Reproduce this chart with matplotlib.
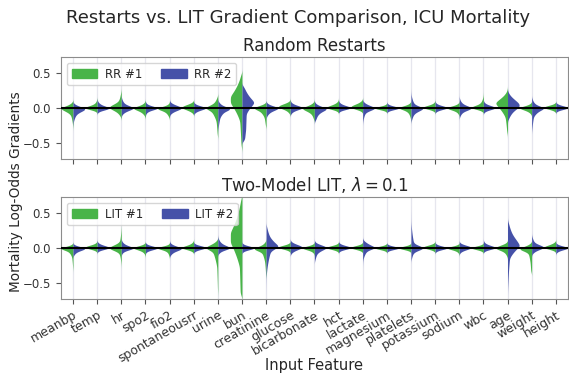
import numpy as np
import matplotlib
matplotlib.use("Agg")
import matplotlib.pyplot as plt
from matplotlib.patches import Patch

features = ["meanbp", "temp", "hr", "spo2", "fio2", "spontaneousrr", "urine",
            "bun", "creatinine", "glucose", "bicarbonate", "hct", "lactate",
            "magnesium", "platelets", "potassium", "sodium", "wbc", "age",
            "weight", "height"]

# gradient quantiles per feature: min, 5%, 25%, 50%, 75%, 95%, max
probs = [0.0, 0.05, 0.25, 0.5, 0.75, 0.95, 1.0]

rr1 = [
    [-0.33, -0.15, -0.04, -0.01, 0.01, 0.05, 0.10],
    [-0.05, -0.02, -0.005, 0.005, 0.02, 0.07, 0.14],
    [-0.16, -0.08, -0.02, 0.01, 0.04, 0.15, 0.28],
    [-0.14, -0.08, -0.03, -0.005, 0.01, 0.05, 0.10],
    [-0.15, -0.10, -0.04, -0.01, 0.0, 0.03, 0.08],
    [-0.08, -0.05, -0.01, 0.01, 0.03, 0.06, 0.09],
    [-0.45, -0.30, -0.08, -0.01, 0.02, 0.10, 0.20],
    [-0.65, -0.40, 0.02, 0.12, 0.22, 0.38, 0.55],
    [-0.30, -0.20, -0.06, -0.01, 0.01, 0.04, 0.07],
    [-0.10, -0.05, 0.0, 0.02, 0.04, 0.07, 0.10],
    [-0.20, -0.12, -0.04, -0.01, 0.01, 0.05, 0.10],
    [-0.05, -0.02, 0.0, 0.01, 0.03, 0.06, 0.12],
    [-0.05, -0.02, 0.0, 0.02, 0.04, 0.08, 0.12],
    [-0.03, -0.015, -0.005, 0.0, 0.005, 0.02, 0.04],
    [-0.20, -0.10, -0.03, 0.0, 0.01, 0.04, 0.10],
    [-0.05, -0.02, 0.0, 0.01, 0.02, 0.05, 0.10],
    [-0.12, -0.06, -0.015, 0.0, 0.01, 0.04, 0.08],
    [-0.05, -0.02, 0.0, 0.01, 0.03, 0.08, 0.25],
    [-0.42, -0.25, -0.02, 0.05, 0.10, 0.17, 0.30],
    [-0.10, -0.06, -0.02, 0.0, 0.01, 0.04, 0.08],
    [-0.05, -0.02, 0.0, 0.01, 0.02, 0.04, 0.06],
]
rr2 = [
    [-0.28, -0.12, -0.05, -0.02, 0.0, 0.03, 0.08],
    [-0.06, -0.03, -0.01, 0.0, 0.02, 0.06, 0.12],
    [-0.12, -0.06, -0.02, 0.0, 0.02, 0.08, 0.18],
    [-0.10, -0.05, -0.01, 0.0, 0.01, 0.04, 0.08],
    [-0.10, -0.06, -0.02, 0.0, 0.02, 0.05, 0.10],
    [-0.08, -0.05, -0.015, 0.0, 0.01, 0.04, 0.07],
    [-0.35, -0.20, -0.07, -0.02, 0.0, 0.05, 0.12],
    [-0.50, -0.42, -0.20, 0.04, 0.12, 0.25, 0.35],
    [-0.15, -0.08, -0.03, -0.005, 0.01, 0.04, 0.08],
    [-0.10, -0.05, -0.01, 0.005, 0.02, 0.05, 0.10],
    [-0.20, -0.15, -0.06, -0.02, 0.0, 0.04, 0.08],
    [-0.04, -0.02, -0.005, 0.005, 0.02, 0.05, 0.10],
    [-0.25, -0.10, -0.02, 0.0, 0.02, 0.06, 0.10],
    [-0.04, -0.02, -0.005, 0.0, 0.01, 0.03, 0.06],
    [-0.22, -0.12, -0.04, -0.01, 0.01, 0.08, 0.28],
    [-0.05, -0.025, -0.005, 0.005, 0.015, 0.04, 0.08],
    [-0.15, -0.08, -0.02, 0.0, 0.02, 0.07, 0.17],
    [-0.07, -0.03, -0.005, 0.005, 0.02, 0.05, 0.10],
    [-0.20, -0.10, -0.01, 0.04, 0.09, 0.16, 0.27],
    [-0.38, -0.20, -0.05, -0.01, 0.01, 0.07, 0.17],
    [-0.04, -0.02, -0.005, 0.005, 0.015, 0.04, 0.06],
]
lit1 = [
    [-0.35, -0.20, -0.05, -0.01, 0.0, 0.02, 0.05],
    [-0.04, -0.02, 0.0, 0.01, 0.02, 0.05, 0.08],
    [-0.30, -0.12, -0.02, 0.0, 0.02, 0.15, 0.36],
    [-0.12, -0.06, -0.015, 0.0, 0.01, 0.03, 0.06],
    [-0.15, -0.08, -0.02, 0.0, 0.005, 0.02, 0.04],
    [-0.06, -0.03, -0.005, 0.005, 0.02, 0.06, 0.10],
    [-0.72, -0.45, -0.10, -0.01, 0.02, 0.07, 0.13],
    [-0.75, -0.55, 0.0, 0.15, 0.30, 0.55, 0.80],
    [-0.45, -0.30, -0.10, -0.02, 0.0, 0.05, 0.12],
    [-0.04, -0.02, 0.0, 0.01, 0.02, 0.04, 0.06],
    [-0.10, -0.05, -0.01, 0.0, 0.01, 0.03, 0.05],
    [-0.04, -0.02, -0.005, 0.005, 0.015, 0.03, 0.05],
    [-0.04, -0.02, -0.005, 0.005, 0.015, 0.03, 0.05],
    [-0.03, -0.015, -0.005, 0.0, 0.005, 0.015, 0.03],
    [-0.04, -0.02, -0.005, 0.0, 0.005, 0.02, 0.04],
    [-0.04, -0.02, 0.0, 0.01, 0.02, 0.04, 0.07],
    [-0.10, -0.05, -0.01, 0.0, 0.005, 0.02, 0.04],
    [-0.05, -0.025, -0.005, 0.0, 0.01, 0.02, 0.04],
    [-0.15, -0.08, -0.02, 0.0, 0.02, 0.05, 0.08],
    [-0.38, -0.30, -0.12, -0.02, 0.0, 0.04, 0.08],
    [-0.04, -0.02, 0.0, 0.01, 0.03, 0.06, 0.09],
]
lit2 = [
    [-0.12, -0.08, -0.03, -0.01, 0.0, 0.02, 0.04],
    [-0.04, -0.02, -0.005, 0.005, 0.02, 0.05, 0.08],
    [-0.10, -0.05, -0.01, 0.0, 0.02, 0.06, 0.12],
    [-0.06, -0.03, -0.01, 0.0, 0.01, 0.03, 0.05],
    [-0.12, -0.08, -0.03, -0.01, 0.005, 0.04, 0.08],
    [-0.05, -0.025, -0.005, 0.005, 0.015, 0.03, 0.05],
    [-0.10, -0.05, -0.01, 0.005, 0.03, 0.08, 0.18],
    [-0.05, -0.03, -0.01, 0.0, 0.01, 0.03, 0.05],
    [-0.70, -0.10, 0.0, 0.04, 0.10, 0.22, 0.36],
    [-0.10, -0.05, -0.01, 0.01, 0.03, 0.06, 0.10],
    [-0.22, -0.12, -0.03, 0.0, 0.02, 0.05, 0.09],
    [-0.04, -0.02, -0.005, 0.005, 0.015, 0.04, 0.07],
    [-0.30, -0.05, -0.005, 0.01, 0.04, 0.08, 0.12],
    [-0.03, -0.015, -0.005, 0.0, 0.005, 0.015, 0.03],
    [-0.20, -0.10, -0.02, 0.0, 0.02, 0.10, 0.65],
    [-0.05, -0.025, -0.005, 0.0, 0.01, 0.03, 0.05],
    [-0.08, -0.04, -0.01, 0.005, 0.02, 0.04, 0.07],
    [-0.04, -0.02, -0.005, 0.005, 0.02, 0.05, 0.10],
    [-0.70, -0.30, 0.0, 0.06, 0.14, 0.28, 0.42],
    [-0.10, -0.05, -0.01, 0.01, 0.03, 0.10, 0.20],
    [-0.07, -0.04, -0.01, 0.0, 0.01, 0.03, 0.05],
]

green = "#48b448"
blue = "#4551a8"
half_width = 0.48
smooth = 0.022


def half_profile(q):
    # density from the quantiles: sqrt-interpolated between segment
    # midpoints, then smoothed along y like a kde
    q = np.asarray(q, dtype=float)
    dq = np.maximum(np.diff(q), 1e-3)
    dens = np.diff(probs) / dq
    mids = (q[:-1] + q[1:]) / 2
    xs = np.concatenate([[q[0]], mids, [q[-1]]])
    ds = np.concatenate([[0.0], dens, [0.0]])
    order = np.argsort(xs)
    y = np.arange(q[0] - 3 * smooth, q[-1] + 3 * smooth, 0.002)
    w = np.interp(y, xs[order], np.sqrt(ds[order]), left=0, right=0) ** 2
    k = np.arange(-3 * smooth, 3 * smooth + 1e-9, 0.002)
    kern = np.exp(-0.5 * (k / smooth) ** 2)
    w = np.convolve(w, kern / kern.sum(), mode="same")
    return y, w / w.max() * half_width


def draw_panel(ax, left, right, labels, title):
    for i in range(len(features)):
        y, w = half_profile(left[i])
        ax.fill_betweenx(y, i - w, i, color=green, lw=0, zorder=2)
        y, w = half_profile(right[i])
        ax.fill_betweenx(y, i, i + w, color=blue, lw=0, zorder=2)
    ax.axhline(0, color="black", lw=1.5, zorder=3)
    ax.set_xlim(-0.5, len(features) - 0.5)
    ax.set_ylim(-0.73, 0.73)
    ax.set_yticks([-0.5, 0.0, 0.5])
    ax.set_xticks(range(len(features)))
    ax.grid(axis="x", color="#e6e6ee", lw=0.9, zorder=0)
    ax.set_axisbelow(True)
    for s in ax.spines.values():
        s.set_color("#8c8c8c")
    ax.tick_params(colors="#333333", labelsize=8.5, length=3.5, color="#555555")
    ax.set_title(title, fontsize=12, color="#262626", pad=4)
    handles = [Patch(color=green, label=labels[0]), Patch(color=blue, label=labels[1])]
    ax.legend(handles=handles, loc="upper left", ncol=2, fontsize=8.5,
              frameon=True, edgecolor="#cccccc", handlelength=2.2,
              handletextpad=0.6, columnspacing=1.6, borderpad=0.4,
              labelcolor="#262626")


fig = plt.figure(figsize=(5.69, 3.75), dpi=100)
ax1 = fig.add_axes([0.107, 0.576, 0.891, 0.272])
ax2 = fig.add_axes([0.107, 0.203, 0.891, 0.272])

draw_panel(ax1, rr1, rr2, ["RR #1", "RR #2"], "Random Restarts")
draw_panel(ax2, lit1, lit2, ["LIT #1", "LIT #2"], r"Two-Model LIT, $\lambda = 0.1$")

ax1.set_xticklabels([])
ax2.set_xticklabels(features, rotation=30, ha="right", rotation_mode="anchor",
                    fontsize=9)

fig.suptitle("Restarts vs. LIT Gradient Comparison, ICU Mortality",
             fontsize=13, color="#262626", x=0.523, y=0.975)
fig.text(0.028, 0.49, "Mortality Log-Odds Gradients", rotation=90,
         ha="center", va="center", fontsize=9.8, color="#262626")
fig.text(0.552, 0.025, "Input Feature", ha="center", va="center",
         fontsize=10.5, color="#262626")

fig.savefig("out.png", dpi=100)
